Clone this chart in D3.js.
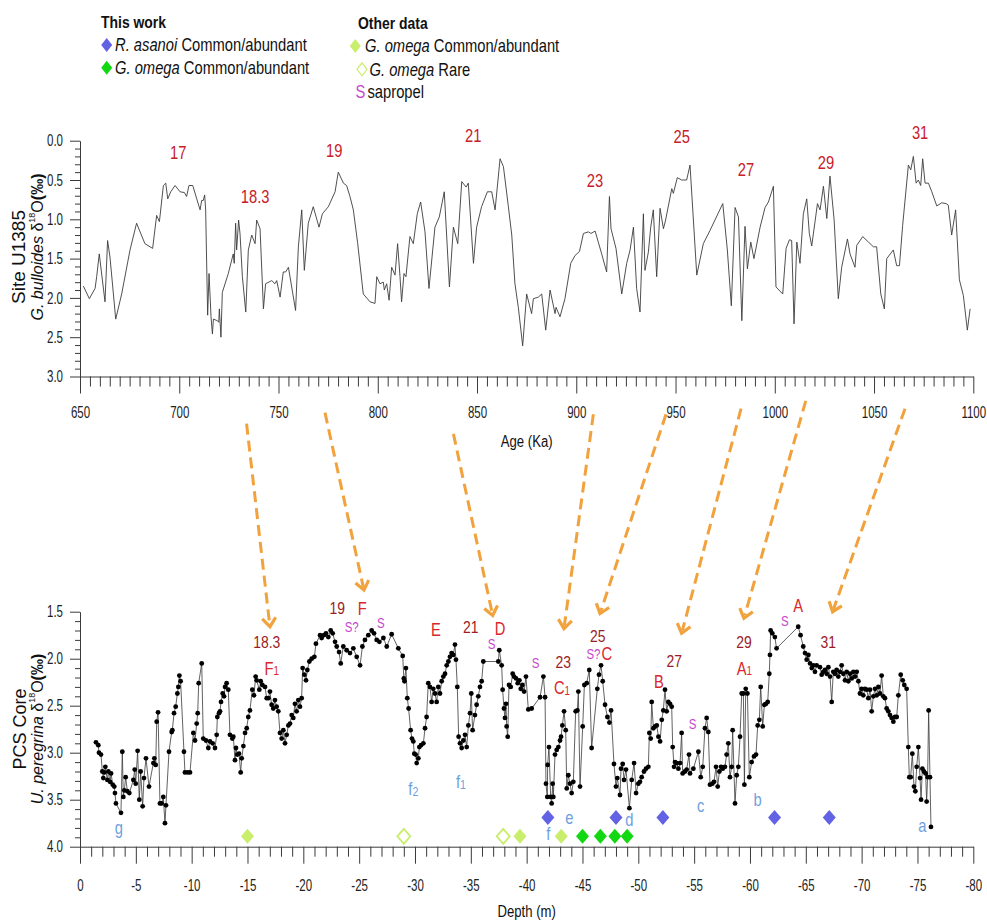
<!DOCTYPE html>
<html>
<head>
<meta charset="utf-8">
<script src="https://cdn.jsdelivr.net/npm/d3@7"></script>
<style>
  html, body { margin: 0; padding: 0; background: #fff; }
  svg { display: block; }
</style>
</head>
<body>
<div id="chart"></div>
<script>
// ---------------- DATA ----------------
// Site U1385, G. bulloides d18O vs Age (Ka)
const topAge = [651.7,654.7,657.6,658.4,659.7,662.6,663.9,665.1,668.0,671.0,675.2,678.5,682.7,686.6,688.6,690.0,692.0,693.2,694.2,695.7,697.9,700.4,702.6,703.7,704.9,706.8,708.8,710.5,711.3,712.1,712.8,713.3,714.3,715.0,716.0,716.7,717.2,719.2,719.9,720.2,721.0,721.7,724.7,727.2,727.7,728.4,728.9,729.9,730.6,731.8,733.5,734.8,736.5,738.2,739.0,740.7,742.4,743.5,746.6,748.2,749.1,750.8,752.4,753.6,755.0,758.6,760.0,761.7,763.0,765.0,767.5,770.4,772.1,775.1,778.5,780.1,782.7,784.3,786.0,787.7,789.9,792.7,796.1,798.6,799.5,801.1,802.8,803.3,804.5,805.7,807.0,808.7,810.0,811.2,812.0,813.2,814.2,816.2,817.9,819.9,821.6,823.8,825.8,828.8,831.0,833.5,836.1,838.1,840.3,842.3,844.5,845.6,848.2,849.8,852.3,855.2,857.4,859.1,861.6,863.3,865.8,867.5,869.1,870.8,873.0,875.0,877.5,878.4,880.9,882.6,884.6,886.8,889.3,889.8,891.8,894.3,897.2,899.4,901.6,903.6,906.1,907.4,909.5,912.8,915.3,916.7,917.5,920.0,922.9,925.4,927.1,928.8,930.4,932.1,933.8,934.6,936.3,937.5,938.8,940.5,942.2,943.9,945.0,948.1,948.9,950.9,953.1,955.6,957.3,960.7,964.0,967.4,973.8,976.1,978.1,980.0,981.7,983.4,985.0,986.2,987.9,989.5,992.6,995.1,996.8,999.3,1000.6,1004.0,1005.7,1007.4,1008.5,1009.7,1011.1,1012.7,1014.4,1016.1,1017.4,1018.6,1021.5,1022.8,1024.5,1026.2,1027.8,1029.9,1032.0,1033.7,1036.6,1037.9,1040.4,1041.3,1044.3,1047.2,1049.7,1051.3,1053.4,1055.2,1056.4,1059.7,1061.4,1062.8,1064.4,1067.3,1068.5,1069.8,1071.2,1072.3,1073.5,1074.5,1075.7,1077.4,1079.1,1081.6,1084.1,1086.3,1087.4,1089.1,1091.1,1093.0,1095.0,1097.0,1098.4];
const topD18O = [1.85,2.01,1.88,1.73,1.44,2.05,1.27,1.48,2.27,1.95,1.39,1.05,1.31,1.37,0.95,1.03,0.57,0.54,0.74,0.65,0.57,0.65,0.66,0.71,0.57,0.57,0.74,0.88,0.76,0.76,0.69,0.88,2.22,1.69,2.24,2.46,2.27,2.29,2.31,2.14,2.50,1.93,1.69,1.44,1.56,1.05,1.39,1.01,1.18,1.73,2.18,1.39,1.20,1.31,1.01,1.12,2.14,1.82,1.78,1.82,1.78,1.99,1.67,1.67,1.61,2.16,1.35,0.88,1.65,1.05,0.84,1.10,0.93,0.84,0.65,0.40,0.54,0.57,0.71,0.88,1.31,1.95,2.05,2.07,1.73,1.82,1.80,1.90,1.82,2.03,1.61,1.71,1.31,1.73,2.05,1.69,1.73,1.22,1.31,0.93,0.78,1.16,1.88,1.10,0.97,0.65,1.86,1.10,1.31,0.52,0.59,0.54,1.56,1.10,0.84,0.65,0.65,0.88,0.23,0.33,0.84,1.20,1.82,2.12,2.61,1.95,2.20,2.01,1.99,1.95,2.41,1.90,2.20,2.12,2.24,2.01,1.56,1.46,1.41,1.18,1.16,1.18,1.15,1.44,1.67,0.71,1.12,1.37,1.95,1.56,1.39,1.10,1.88,2.18,0.93,1.65,1.42,1.10,0.88,1.73,0.86,1.12,1.01,0.61,0.67,0.47,0.50,0.50,0.31,1.71,1.31,1.14,0.80,1.39,2.10,0.85,0.97,2.29,1.09,1.63,1.29,1.50,1.10,0.85,0.78,0.58,1.86,1.95,1.37,1.26,1.27,2.33,1.29,1.56,0.93,0.74,1.18,1.34,0.80,0.88,0.58,0.99,0.45,1.01,2.01,1.61,1.25,1.44,1.61,1.33,1.22,1.29,1.35,1.35,1.95,2.14,1.50,1.39,1.59,1.59,1.08,0.31,0.37,0.20,0.54,0.50,0.57,0.23,0.54,0.54,0.65,0.83,0.79,0.80,0.82,1.20,0.88,1.77,1.97,2.41,2.14];

// PCS Core, U. peregrina d18O vs Depth (m)
const pcsDepth = [-1.43,-1.64,-1.70,-1.88,-2.00,-2.09,-2.18,-2.27,-2.45,-2.54,-2.69,-2.78,-2.93,-3.07,-3.13,-3.22,-3.67,-3.79,-3.88,-3.97,-4.09,-4.24,-4.42,-4.78,-4.90,-4.99,-5.16,-5.31,-5.43,-5.61,-5.73,-5.91,-6.18,-6.57,-6.66,-6.78,-6.87,-6.99,-7.16,-7.31,-7.46,-7.61,-7.70,-7.97,-8.21,-8.27,-8.42,-8.57,-8.72,-8.81,-8.90,-9.01,-9.31,-9.40,-9.64,-9.85,-10.15,-10.30,-10.45,-10.54,-10.63,-10.90,-11.04,-11.28,-11.49,-11.64,-11.88,-12.09,-12.24,-12.30,-12.45,-12.54,-12.63,-12.78,-12.90,-12.99,-13.13,-13.28,-13.43,-13.64,-13.73,-13.88,-13.97,-14.09,-14.24,-14.39,-14.48,-14.63,-14.78,-14.93,-15.07,-15.22,-15.43,-15.58,-15.73,-15.82,-16.06,-16.18,-16.33,-16.57,-16.72,-16.87,-17.01,-17.16,-17.31,-17.46,-17.61,-17.76,-17.91,-18.06,-18.21,-18.36,-18.51,-18.66,-18.81,-18.96,-19.10,-19.25,-19.40,-19.55,-19.70,-19.85,-19.94,-20.09,-20.24,-20.36,-20.54,-20.75,-20.99,-21.13,-21.50,-21.64,-21.85,-22.03,-22.24,-22.45,-22.63,-22.84,-22.99,-23.20,-23.35,-23.58,-23.88,-24.18,-24.48,-24.78,-25.08,-25.29,-25.52,-25.82,-26.12,-26.33,-26.57,-26.81,-27.17,-27.47,-27.91,-28.51,-28.90,-29.00,-29.06,-29.19,-29.31,-29.43,-29.61,-29.73,-29.85,-29.94,-30.06,-30.15,-30.30,-30.39,-30.54,-30.75,-30.90,-31.04,-31.19,-31.34,-31.49,-31.64,-31.79,-31.94,-32.09,-32.24,-32.39,-32.54,-32.69,-32.84,-32.99,-33.13,-33.28,-33.43,-33.58,-33.67,-33.79,-33.91,-34.03,-34.18,-34.33,-34.48,-34.63,-34.78,-34.93,-35.04,-35.16,-35.37,-35.52,-35.67,-35.82,-35.97,-36.12,-37.46,-37.55,-37.76,-37.85,-37.97,-38.06,-38.15,-38.21,-38.30,-38.42,-38.57,-38.75,-38.87,-39.05,-39.20,-39.35,-39.47,-39.62,-39.77,-39.94,-40.15,-40.45,-41.20,-41.50,-41.65,-41.73,-41.85,-41.88,-42.00,-42.15,-42.24,-42.33,-42.39,-42.54,-42.69,-42.84,-42.99,-43.08,-43.20,-43.35,-43.50,-43.59,-43.73,-43.88,-44.03,-44.18,-44.39,-44.54,-44.63,-44.78,-45.02,-45.17,-45.38,-45.61,-45.82,-46.33,-46.48,-46.66,-46.81,-47.02,-47.23,-47.41,-47.56,-47.82,-48.00,-48.12,-48.36,-48.45,-48.60,-48.72,-48.90,-49.20,-49.41,-49.62,-49.80,-50.00,-50.15,-50.30,-50.51,-50.69,-50.90,-50.99,-51.11,-51.20,-51.35,-51.50,-51.65,-51.80,-51.95,-52.10,-52.24,-52.39,-52.54,-52.69,-52.84,-52.99,-53.08,-53.20,-53.29,-53.44,-53.59,-53.74,-53.88,-53.97,-54.18,-54.33,-54.54,-54.63,-54.93,-55.38,-55.59,-55.77,-55.97,-56.12,-56.27,-56.42,-56.63,-56.78,-56.96,-57.11,-57.26,-57.41,-57.56,-57.76,-57.91,-58.06,-58.21,-58.36,-58.45,-58.66,-58.81,-58.96,-59.11,-59.26,-59.41,-59.50,-59.62,-59.77,-59.94,-60.15,-60.36,-60.54,-60.69,-60.84,-60.96,-61.14,-61.29,-61.44,-61.59,-61.73,-61.79,-61.85,-62.00,-62.23,-62.38,-64.32,-64.53,-64.77,-64.93,-65.08,-65.23,-65.38,-65.53,-65.67,-65.82,-65.97,-66.27,-66.42,-66.57,-66.72,-66.87,-67.02,-67.17,-67.32,-67.46,-67.61,-67.76,-67.91,-68.06,-68.21,-68.36,-68.51,-68.66,-68.81,-68.96,-69.11,-69.26,-69.41,-69.56,-69.71,-69.85,-70.00,-70.15,-70.30,-70.45,-70.60,-70.75,-70.90,-71.05,-71.20,-71.35,-71.50,-71.64,-71.79,-71.94,-72.09,-72.24,-72.39,-72.54,-72.69,-72.84,-72.99,-73.14,-73.29,-73.50,-73.68,-73.82,-74.03,-74.18,-74.27,-74.39,-74.54,-74.69,-74.81,-74.93,-75.08,-75.23,-75.32,-75.44,-75.58,-75.73,-75.82,-75.91,-76.00,-76.12,-76.21];
const pcsD18O = [2.89,2.92,3.00,3.02,3.20,3.27,3.21,3.15,3.29,3.20,3.31,3.22,3.34,3.36,3.43,3.54,3.64,2.99,3.47,3.40,3.26,3.41,3.43,3.29,3.18,3.33,2.98,3.50,3.20,3.57,3.27,3.06,3.36,3.11,3.06,3.13,2.67,2.57,3.54,3.54,3.47,3.75,3.56,2.99,2.78,2.76,2.58,2.51,2.37,2.30,2.18,2.24,2.99,3.21,3.21,3.21,2.79,2.87,2.69,2.58,2.26,2.05,2.85,2.87,2.95,2.88,2.90,2.95,2.81,2.62,2.58,2.56,2.46,2.37,2.40,2.30,2.26,2.33,2.81,2.85,2.83,3.08,2.95,3.02,3.01,3.21,3.06,2.93,2.79,2.74,2.62,2.55,2.33,2.39,2.19,2.23,2.33,2.24,2.28,2.30,2.42,2.42,2.35,2.49,2.53,2.44,2.51,2.56,2.79,2.85,2.76,2.90,2.81,2.71,2.69,2.60,2.63,2.48,2.56,2.44,2.51,2.42,2.10,2.17,2.23,2.12,2.03,2.00,1.98,1.84,1.75,1.78,1.75,1.73,1.77,1.70,1.73,1.82,1.87,1.93,2.05,1.87,1.91,1.94,1.89,1.98,2.07,1.87,1.80,1.75,1.70,1.73,1.80,1.82,1.78,1.87,1.74,1.89,1.97,2.21,2.24,2.10,2.42,2.53,2.76,2.85,2.88,3.01,3.02,3.11,3.06,2.94,2.92,2.90,2.74,2.62,2.26,2.30,2.46,2.32,2.37,2.46,2.30,2.37,2.24,2.19,2.16,2.07,2.03,1.98,1.94,1.96,1.85,2.01,2.30,2.83,2.90,2.95,2.87,2.81,2.94,2.71,2.58,2.37,2.76,2.60,2.49,2.40,2.30,2.24,2.03,2.03,1.91,2.07,2.33,2.53,2.63,2.48,2.72,2.83,2.28,2.30,2.16,2.19,2.21,2.26,2.23,2.32,2.28,2.35,2.19,2.54,2.53,2.41,2.19,2.41,3.33,3.47,3.13,2.94,3.47,3.54,3.33,3.47,3.02,2.97,2.94,2.87,2.83,2.71,2.56,2.76,3.38,3.24,3.33,3.43,3.31,2.56,2.55,2.35,3.36,2.72,2.28,2.26,2.12,2.95,2.32,2.17,2.07,2.24,2.49,2.62,2.68,2.55,3.12,3.36,3.27,3.45,3.17,3.12,3.29,3.18,3.59,3.29,3.11,3.43,3.33,3.31,3.26,3.20,3.17,3.15,2.79,2.85,2.46,2.74,2.72,2.71,2.83,2.88,2.65,2.55,2.33,2.56,2.46,2.48,2.51,2.94,3.15,3.10,3.11,3.17,3.11,2.79,3.22,3.20,3.18,3.02,3.22,3.17,2.99,3.26,3.15,2.74,2.63,2.78,3.34,3.33,3.31,3.15,3.36,3.20,3.15,3.17,3.15,3.02,2.90,3.26,3.15,2.76,3.54,3.24,3.15,2.83,2.37,2.37,3.34,2.32,2.37,3.26,3.10,3.04,3.02,2.71,2.65,2.30,2.72,2.49,2.48,2.46,2.16,1.96,1.70,1.73,1.77,1.89,1.66,1.75,1.87,1.94,2.01,1.96,2.05,2.10,2.07,2.14,2.07,2.09,2.17,2.14,2.12,2.16,2.09,2.19,2.46,2.14,2.16,2.12,2.19,2.14,2.07,2.16,2.23,2.14,2.24,2.16,2.21,2.14,2.19,2.14,2.24,2.37,2.32,2.39,2.32,2.33,2.42,2.33,2.56,2.40,2.32,2.39,2.30,2.37,2.18,2.40,2.42,2.53,2.56,2.60,2.63,2.67,2.62,2.62,2.39,2.17,2.23,2.28,2.32,2.94,3.26,3.26,3.01,3.36,3.41,3.15,2.94,3.27,3.50,3.17,3.20,3.22,3.52,3.26,2.55,3.26,3.79];

// Marker occurrences (depth, m)
const asanoiDepth = [-41.9, -48.0, -52.2, -62.2, -67.1];          // R. asanoi common/abundant (this work)
const omegaThisDepth = [-45.0, -46.6, -47.9, -49.0];              // G. omega common/abundant (this work)
const omegaOtherDepth = [-15.0, -39.4, -43.1];                    // G. omega common/abundant (other data)
const omegaRareDepth = [-29.0, -37.9];                            // G. omega rare (other data)
const markerRowAsanoi = 3.69, markerRowOmega = 3.89;              // plotted row levels (‰ axis)

// Tick values
const topMajorTicks = [650,700,750,800,850,900,950,1000,1050,1100];
const topYTicks = [0.0,0.5,1.0,1.5,2.0,2.5,3.0];
const botMajorTicks = [0,-5,-10,-15,-20,-25,-30,-35,-40,-45,-50,-55,-60,-65,-70,-75,-80];
const botYTicks = [1.5,2.0,2.5,3.0,3.5,4.0];

// Top MIS labels
const topLabelText = ["17","18.3","19","21","23","25","27","29","31"];
const topLabelAge  = [699.5,738.2,778.1,848.1,909.4,953.1,985.5,1025.8,1073.2];
const topLabelVal  = [0.15,0.71,0.12,-0.07,0.50,-0.05,0.36,0.28,-0.11];

// Bottom labels
const botLabelText  = ["18.3","F","19","F","S?","S","E","21","D","S","S","23","C","25","S?","C","27","B","S","29","A","S","A","31"];
const botLabelSub   = ["","1","","","","","","","","","","","1","","","","","","","","1","","",""];
const botLabelDepth = [-16.72,-17.17,-23.04,-25.28,-24.33,-26.95,-31.88,-34.99,-37.61,-36.87,-40.81,-43.28,-43.16,-46.36,-45.98,-47.17,-53.22,-51.85,-54.87,-59.46,-59.5,-63.13,-64.32,-67.01];
const botLabelVal   = [1.82,2.10,1.45,1.46,1.66,1.61,1.69,1.66,1.68,1.84,2.04,2.03,2.31,1.75,1.95,1.94,2.02,2.24,2.69,1.82,2.10,1.59,1.43,1.82];
const botLabelKind  = ["mis","ev","mis","ev","sap","sap","ev","mis","ev","sap","sap","mis","ev","mis","sap","ev","mis","ev","sap","mis","ev","sap","ev","mis"];

// Bio-events letters
const bioText  = ["g","f","f","f","e","d","c","b","a"];
const bioSub   = ["","2","1","","","","","",""];
const bioDepth = [-3.49,-29.85,-34.12,-41.94,-43.82,-49.19,-55.58,-60.69,-75.43];
const bioVal   = [3.80,3.38,3.31,3.86,3.69,3.71,3.56,3.50,3.77];

// Correlation arrows: from (age, top-axis value) to (depth, bottom-axis value)
const arrowAge     = [733.9,773.4,838.1,908.6,945.2,983.0,1015.6,1065.6];
const arrowAgeVal  = [3.60,3.46,3.73,3.48,3.48,3.41,3.31,3.41];
const arrowDepth   = [-17.01,-25.43,-36.96,-43.34,-46.57,-53.88,-59.46,-67.4];
const arrowDepthVal= [1.66,1.27,1.54,1.68,1.52,1.73,1.57,1.50];

// ---------------- STYLE ----------------
const FONT = '"Liberation Sans",Arial,sans-serif';
const SX = 0.82;   // horizontal condensation of the figure's narrow lettering
const TSX = 0.72;  // condensation of tick labels
const C_MIS = "#9c1c26", C_EV = "#d8282c", C_TOPLAB = "#c8202a", C_SAP = "#c646cf", C_BIO = "#6e9fe0";
const C_ASANOI = "#6262e4", C_OMEGA = "#12d812", C_OMEGA_OTHER = "#c8ee6c", C_ARROW = "#f2a23c";

const W = 987, H = 920;
const svg = d3.select("#chart").append("svg").attr("width", W).attr("height", H)
  .style("font-family", FONT);

function ntext(parent, x, y, anchor) {
  return parent.append("g").attr("transform", `translate(${x},${y}) scale(${SX},1)`)
    .append("text").attr("text-anchor", anchor || "start");
}

// scales
const xTop = d3.scaleLinear().domain([650, 1100]).range([80, 973.3]);
const yTop = d3.scaleLinear().domain([0, 3]).range([140.7, 376.5]);
const xBot = d3.scaleLinear().domain([0, -80]).range([80, 973.3]);
const yBot = d3.scaleLinear().domain([1.5, 4]).range([611.7, 846.7]);

function styleAxis(g) {
  g.selectAll("path,line").attr("stroke", "#3a3a3a").attr("stroke-width", 1);
  g.selectAll("text").attr("fill", "#222").style("font-family", FONT).style("font-size", "16px");
}

function drawXAxis(scale, yPos, minorStep, majorVals, fmt, pad) {
  const dom = scale.domain();
  const lo = Math.min(dom[0], dom[1]), hi = Math.max(dom[0], dom[1]);
  const minorVals = d3.range(lo, hi + minorStep / 2, minorStep).filter(v => !majorVals.some(m => Math.abs(m - v) < 1e-6));
  const gMin = svg.append("g").attr("transform", `translate(0,${yPos})`)
    .call(d3.axisBottom(scale).tickValues(minorVals).tickSize(10).tickFormat(""));
  gMin.select(".domain").remove();
  styleAxis(gMin);
  const gMaj = svg.append("g").attr("transform", `translate(0,${yPos})`)
    .call(d3.axisBottom(scale).tickValues(majorVals).tickSize(17).tickSizeOuter(0).tickPadding(pad).tickFormat(fmt));
  styleAxis(gMaj);
  gMaj.selectAll(".tick text").attr("transform", `scale(${TSX},1)`);
}
function drawYAxis(scale, minorStep, majorVals) {
  const dom = scale.domain();
  const minorVals = d3.range(dom[0], dom[1] + minorStep / 2, minorStep).filter(v => !majorVals.some(m => Math.abs(m - v) < 1e-6));
  const gMin = svg.append("g").attr("transform", `translate(80,0)`)
    .call(d3.axisLeft(scale).tickValues(minorVals).tickSize(5).tickFormat(""));
  gMin.select(".domain").remove();
  styleAxis(gMin);
  const gMaj = svg.append("g").attr("transform", `translate(80,0)`)
    .call(d3.axisLeft(scale).tickValues(majorVals).tickSize(10).tickSizeOuter(0).tickPadding(7).tickFormat(d3.format(".1f")));
  styleAxis(gMaj);
  gMaj.selectAll(".tick text").attr("x", -17 / TSX).attr("transform", `scale(${TSX},1)`);
}

// ---------------- TOP CHART ----------------
drawYAxis(yTop, 0.1, topYTicks);
drawXAxis(xTop, 376.5, 5, topMajorTicks, d => String(d), 13);

const topData = topAge.map((a, i) => ({ x: a, y: topD18O[i] }));
svg.append("path").datum(topData)
  .attr("fill", "none").attr("stroke", "#3c3c3c").attr("stroke-width", 0.9)
  .attr("d", d3.line().x(d => xTop(d.x)).y(d => yTop(d.y)));

const gTopLab = svg.append("g");
topLabelText.forEach((s, i) => {
  ntext(gTopLab, xTop(topLabelAge[i]), yTop(topLabelVal[i]), "middle")
    .attr("dominant-baseline", "central").attr("fill", C_TOPLAB).style("font-size", "18px").text(s);
});

ntext(svg, 526.7, 441.7, "middle").attr("dominant-baseline", "central")
  .style("font-size", "16px").attr("fill", "#111").text("Age (Ka)");

// top y-axis title
svg.append("text").attr("transform", "translate(18,257) rotate(-90)")
  .attr("text-anchor", "middle").attr("dominant-baseline", "central")
  .style("font-size", "19px").attr("fill", "#111").text("Site U1385");
const tt2 = svg.append("text").attr("transform", "translate(37,247) rotate(-90)")
  .attr("text-anchor", "middle").attr("dominant-baseline", "central")
  .style("font-size", "16px").attr("fill", "#111");
tt2.append("tspan").style("font-style", "italic").text("G. bulloides ");
tt2.append("tspan").text("δ");
tt2.append("tspan").style("font-size", "9px").attr("dy", "-5").text("18");
tt2.append("tspan").attr("dy", "5").text("O");
tt2.append("tspan").style("font-weight", "bold").text("(‰)");

// ---------------- BOTTOM CHART ----------------
drawYAxis(yBot, 0.1, botYTicks);
drawXAxis(xBot, 846.7, 1, botMajorTicks, d => d === 0 ? "0" : "-" + Math.abs(d), 16);

const botData = pcsDepth.map((d, i) => ({ x: d, y: pcsD18O[i] }));
svg.append("path").datum(botData)
  .attr("fill", "none").attr("stroke", "#3a3a3a").attr("stroke-width", 0.8)
  .attr("d", d3.line().x(d => xBot(d.x)).y(d => yBot(d.y)));
svg.append("g").selectAll("circle").data(botData).join("circle")
  .attr("cx", d => xBot(d.x)).attr("cy", d => yBot(d.y)).attr("r", 2.4).attr("fill", "#000");

function diamondPath(cx, cy, hw, hh) {
  const p = d3.path();
  p.moveTo(cx, cy - hh); p.lineTo(cx + hw, cy); p.lineTo(cx, cy + hh); p.lineTo(cx - hw, cy); p.closePath();
  return p.toString();
}
function drawDiamonds(depths, row, fill, stroke, sw) {
  svg.append("g").selectAll("path").data(depths).join("path")
    .attr("d", d => diamondPath(xBot(d), yBot(row), 6.5, 7.5))
    .attr("fill", fill).attr("stroke", stroke).attr("stroke-width", sw);
}
drawDiamonds(asanoiDepth, markerRowAsanoi, C_ASANOI, "none", 0);
drawDiamonds(omegaThisDepth, markerRowOmega, C_OMEGA, "none", 0);
drawDiamonds(omegaOtherDepth, markerRowOmega, C_OMEGA_OTHER, "none", 0);
drawDiamonds(omegaRareDepth, markerRowOmega, "#fff", C_OMEGA_OTHER, 1.8);

const kindColor = { mis: C_MIS, ev: C_EV, sap: C_SAP };
const kindSize = { mis: 17, ev: 18, sap: 14 };
const gBotLab = svg.append("g");
botLabelText.forEach((s, i) => {
  const t = ntext(gBotLab, xBot(botLabelDepth[i]), yBot(botLabelVal[i]), "middle")
    .attr("dominant-baseline", "central").attr("fill", kindColor[botLabelKind[i]])
    .style("font-size", kindSize[botLabelKind[i]] + "px");
  t.append("tspan").text(s);
  if (botLabelSub[i]) t.append("tspan").style("font-size", "12px").attr("dy", "3").text(botLabelSub[i]);
});

const gBio = svg.append("g");
bioText.forEach((s, i) => {
  const t = ntext(gBio, xBot(bioDepth[i]), yBot(bioVal[i]), "middle")
    .attr("dominant-baseline", "central").attr("fill", C_BIO).style("font-size", "18px");
  t.append("tspan").text(s);
  if (bioSub[i]) t.append("tspan").style("font-size", "13px").attr("dy", "3").text(bioSub[i]);
});

ntext(svg, 526.7, 911.7, "middle").attr("dominant-baseline", "central")
  .style("font-size", "16px").attr("fill", "#111").text("Depth (m)");

svg.append("text").attr("transform", "translate(20,729) rotate(-90)")
  .attr("text-anchor", "middle").attr("dominant-baseline", "central")
  .style("font-size", "18px").attr("fill", "#111").text("PCS Core");
const bt2 = svg.append("text").attr("transform", "translate(37,729) rotate(-90)")
  .attr("text-anchor", "middle").attr("dominant-baseline", "central")
  .style("font-size", "16px").attr("fill", "#111");
bt2.append("tspan").style("font-style", "italic").text("U. peregrina ");
bt2.append("tspan").text("δ");
bt2.append("tspan").style("font-size", "9px").attr("dy", "-5").text("18");
bt2.append("tspan").attr("dy", "5").text("O");
bt2.append("tspan").style("font-weight", "bold").text("(‰)");

// ---------------- ARROWS ----------------
const ag = svg.append("g");
arrowAge.forEach((a, i) => {
  const x1 = xTop(a), y1 = yTop(arrowAgeVal[i]);
  const x2 = xBot(arrowDepth[i]), y2 = yBot(arrowDepthVal[i]);
  const dx = x2 - x1, dy = y2 - y1, L = Math.hypot(dx, dy);
  const ux = dx / L, uy = dy / L;
  ag.append("line").attr("x1", x1).attr("y1", y1).attr("x2", x2 - ux * 3).attr("y2", y2 - uy * 3)
    .attr("stroke", C_ARROW).attr("stroke-width", 3).attr("stroke-dasharray", "11,6");
  const arm = 11, ang = 38 * Math.PI / 180;
  const rot = (vx, vy, t) => [vx * Math.cos(t) - vy * Math.sin(t), vx * Math.sin(t) + vy * Math.cos(t)];
  const [ax, ay] = rot(-ux, -uy, ang), [bx, by] = rot(-ux, -uy, -ang);
  const p = d3.path();
  p.moveTo(x2 + ax * arm, y2 + ay * arm); p.lineTo(x2, y2); p.lineTo(x2 + bx * arm, y2 + by * arm);
  ag.append("path").attr("d", p.toString()).attr("fill", "none").attr("stroke", C_ARROW)
    .attr("stroke-width", 3.2).attr("stroke-linejoin", "miter");
});

// ---------------- LEGEND ----------------
const lg = svg.append("g").attr("fill", "#111");
ntext(lg, 101, 28).style("font-weight", "bold").style("font-size", "17px").text("This work");
ntext(lg, 358, 29).style("font-weight", "bold").style("font-size", "17px").text("Other data");

lg.append("path").attr("d", diamondPath(106.7, 45, 5.5, 7)).attr("fill", C_ASANOI);
let t = ntext(lg, 115, 51).style("font-size", "18px");
t.append("tspan").style("font-style", "italic").text("R. asanoi");
t.append("tspan").text(" Common/abundant");

lg.append("path").attr("d", diamondPath(106.7, 67.7, 5.5, 7)).attr("fill", C_OMEGA);
t = ntext(lg, 115, 74).style("font-size", "18px");
t.append("tspan").style("font-style", "italic").text("G. omega");
t.append("tspan").text(" Common/abundant");

lg.append("path").attr("d", diamondPath(355.3, 46, 5.5, 7)).attr("fill", C_OMEGA_OTHER);
t = ntext(lg, 365, 52).style("font-size", "18px");
t.append("tspan").style("font-style", "italic").text("G. omega");
t.append("tspan").text(" Common/abundant");

lg.append("path").attr("d", diamondPath(362, 69.3, 5, 6.5)).attr("fill", "#fff").attr("stroke", C_OMEGA_OTHER).attr("stroke-width", 1.2);
t = ntext(lg, 369.5, 75.5).style("font-size", "18px");
t.append("tspan").style("font-style", "italic").text("G. omega");
t.append("tspan").text(" Rare");

ntext(lg, 355.5, 98).style("font-size", "18px").attr("fill", C_SAP).text("S");
ntext(lg, 367.5, 98).style("font-size", "18px").text("sapropel");
</script>
</body>
</html>
